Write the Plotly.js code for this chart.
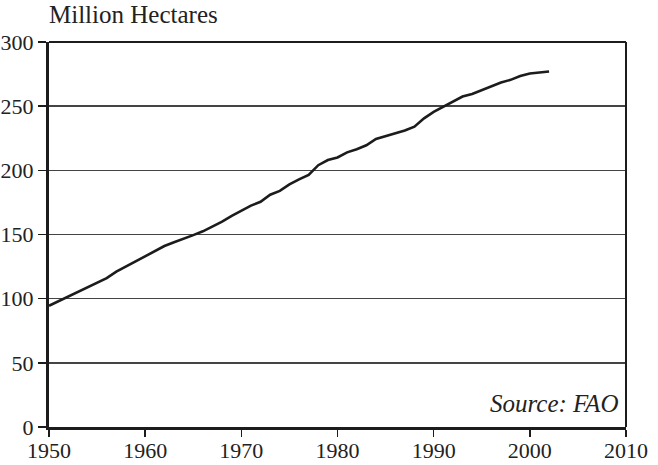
<!DOCTYPE html>
<html>
<head>
<meta charset="utf-8">
<script src="https://cdn.plot.ly/plotly-3.0.1.min.js"></script>
<style>html,body{margin:0;padding:0;background:#fff;}#chart{width:658px;height:465px;}</style>
</head>
<body>
<div id="chart"></div>
<script>
const years = [1950,1951,1952,1953,1954,1955,1956,1957,1958,1959,
               1960,1961,1962,1963,1964,1965,1966,1967,1968,1969,
               1970,1971,1972,1973,1974,1975,1976,1977,1978,1979,
               1980,1981,1982,1983,1984,1985,1986,1987,1988,1989,
               1990,1991,1992,1993,1994,1995,1996,1997,1998,1999,
               2000,2001,2002];
const irrigatedArea = [94.5,98,101.5,105,108.5,112,116,121,125,129,
                       133,137.5,141,144,146.5,149.5,152.5,156,160,164.5,
                       168.5,172.5,175.5,181,184,189,193,196.5,204,208,
                       210,214,216.5,219.5,224.5,226.5,228.5,231,234,240.5,
                       245.5,249.5,253,257.5,259.5,262.5,265.5,268.5,270.5,273.5,
                       275.5,276.5,277];
const xTicks = [1950,1960,1970,1980,1990,2000,2010];
const yTicks = [0,50,100,150,200,250,300];
const yAxisLabel = "Million Hectares";
const sourceNote = "<i>Source: FAO</i>";

const fontFam = "Liberation Serif, Times New Roman, serif";

const trace = {
  x: years, y: irrigatedArea, type: 'scatter', mode: 'lines',
  line: {color: '#1c1c1c', width: 2.6, shape: 'linear'},
  hoverinfo: 'skip'
};

const layout = {
  width: 658, height: 465,
  margin: {l: 49, r: 32, t: 42, b: 38},
  paper_bgcolor: '#fff', plot_bgcolor: '#fff',
  showlegend: false,
  font: {family: fontFam, size: 22, color: '#222'},
  xaxis: {
    range: [1950, 2010], tickvals: xTicks, ticktext: xTicks.map(String),
    showgrid: false, zeroline: false,
    showline: true, linecolor: '#1c1c1c', linewidth: 3,
    ticks: 'outside', ticklen: 7, tickwidth: 1.6, tickcolor: '#1c1c1c',
    tickfont: {family: fontFam, size: 22, color: '#222'}
  },
  yaxis: {
    range: [0, 300], tickvals: yTicks, ticktext: yTicks.map(String),
    showgrid: true, gridcolor: '#444', gridwidth: 1.4, zeroline: false,
    showline: true, linecolor: '#1c1c1c', linewidth: 3,
    ticks: 'outside', ticklen: 8, tickwidth: 1.5, tickcolor: '#1c1c1c',
    tickfont: {family: fontFam, size: 22, color: '#222'}
  },
  shapes: [
    {type: 'line', xref: 'paper', yref: 'paper', x0: 0, x1: 1, y0: 1, y1: 1, line: {color: '#1c1c1c', width: 2}},
    {type: 'line', xref: 'paper', yref: 'paper', x0: 1, x1: 1, y0: 0, y1: 1, line: {color: '#1c1c1c', width: 2}}
  ],
  annotations: [
    {text: yAxisLabel, xref: 'paper', yref: 'paper', x: 0, y: 1, xanchor: 'left', yanchor: 'bottom',
     yshift: 12, xshift: -2, showarrow: false, font: {family: fontFam, size: 25, color: '#222'}},
    {text: sourceNote, xref: 'paper', yref: 'paper', x: 1, y: 0, xanchor: 'right', yanchor: 'bottom',
     xshift: -6, yshift: 8, showarrow: false, font: {family: fontFam, size: 25, color: '#222'}}
  ]
};

Plotly.newPlot('chart', [trace], layout, {staticPlot: true, displayModeBar: false}).then(function(gd){
  // nudge the x tick labels up so they sit where the reference has them
  const labels = document.querySelectorAll('.xtick text');
  labels.forEach(function(t){ t.setAttribute('transform', (t.getAttribute('transform')||'') + ' translate(0,-5)'); });
});
</script>
</body>
</html>
